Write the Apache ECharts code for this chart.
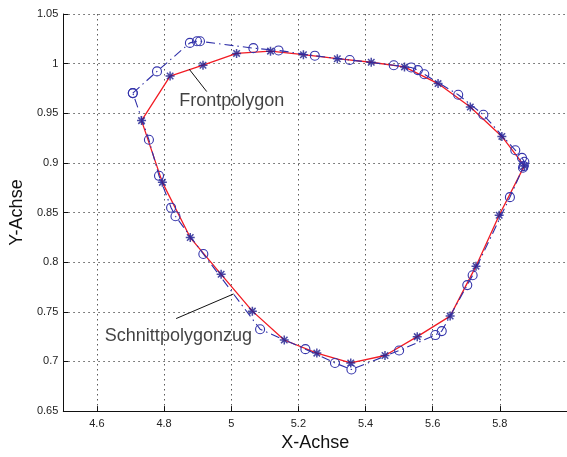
<!DOCTYPE html>
<html>
<head>
<meta charset="utf-8">
<script src="https://cdn.jsdelivr.net/npm/echarts@6/dist/echarts.min.js"></script>
<style>html,body{margin:0;padding:0;background:#fff;}#c{width:567px;height:457px;}</style>
</head>
<body>
<div id="c"></div>
<script>
// Front polygon vertices (red line, blue asterisks) [x, y]
var frontX = [4.733,4.818,4.916,5.016,5.117,5.215,5.316,5.417,5.516,5.616,5.712,5.806,5.873,5.798,5.729,5.652,5.554,5.458,5.356,5.255,5.158,5.063,4.970,4.878,4.795];
var frontY = [0.9426,0.9875,0.9984,1.0103,1.0126,1.0090,1.0050,1.0014,0.9967,0.9799,0.9564,0.9267,0.8970,0.8473,0.7960,0.7457,0.7250,0.7060,0.6985,0.7084,0.7216,0.7507,0.7878,0.8248,0.8804];
// Schnittpolygonzug (blue dash-dot, circles)
var cutX = [4.707,4.779,4.877,4.898,4.907,5.066,5.141,5.249,5.353,5.484,5.536,5.556,5.575,5.676,5.751,5.846,5.866,5.873,5.871,5.869,5.830,5.719,5.703,5.627,5.608,5.500,5.358,5.309,5.221,5.086,4.917,4.834,4.821,4.785,4.755];
var cutY = [0.9703,0.9922,1.0209,1.0225,1.0225,1.0156,1.0133,1.0080,1.0037,0.9984,0.9961,0.9935,0.9893,0.9687,0.9485,0.9128,0.9051,0.9011,0.8968,0.8951,0.8655,0.7868,0.7769,0.7306,0.7266,0.7110,0.6919,0.6985,0.7124,0.7325,0.8083,0.8463,0.8549,0.8870,0.9233];
// x tick values
var xTicks = [4.6,4.8,5.0,5.2,5.4,5.6,5.8];
// annotations
var annoNames = ['Frontpolygon','Schnittpolygonzug'];
var annoTextPos = [[4.845,0.962],[4.6237,0.7259]];
var annoLine1 = [[4.875,0.9944],[4.927,0.9719]];
var annoLine2 = [[4.836,0.7432],[5.007,0.768]];

function pairs(xs, ys, close){
  var d = xs.map(function(x,i){return [x, ys[i]];});
  if (close) d.push([xs[0], ys[0]]);
  return d;
}

var FONT = '"Liberation Sans", Arial, Helvetica, sans-serif';
var gridLine = {show:true, lineStyle:{color:'#5a5a5a', type:[1.5,3.5], width:1}};
var chart = echarts.init(document.getElementById('c'));
chart.setOption({
  animation:false,
  backgroundColor:'#fff',
  grid:{left:60.6, top:14, right:-4, bottom:39.7, containLabel:false},
  xAxis:[{
    type:'value', min:4.5, max:6.0, position:'bottom',
    name:'X-Achse', nameLocation:'middle', nameGap:19,
    nameTextStyle:{fontFamily:FONT, fontSize:18, color:'#111'},
    axisLine:{show:true, onZero:false, lineStyle:{color:'#111', width:1}},
    axisTick:{show:true, inside:true, length:5, customValues:xTicks, lineStyle:{color:'#111'}},
    axisLabel:{show:true, customValues:xTicks, margin:7, fontFamily:FONT, fontSize:11, color:'#222',
      formatter:function(v){return String(+v.toFixed(2));}},
    splitLine:gridLine
  }],
  yAxis:[{
    type:'value', min:0.65, max:1.05, interval:0.05, position:'left',
    name:'Y-Achse', nameLocation:'middle', nameGap:32,
    nameTextStyle:{fontFamily:FONT, fontSize:18, color:'#111'},
    axisLine:{show:true, onZero:false, lineStyle:{color:'#111', width:1}},
    axisTick:{show:true, inside:true, length:5, lineStyle:{color:'#111'}},
    axisLabel:{show:true, margin:5, fontFamily:FONT, fontSize:11, color:'#222',
      formatter:function(v){return String(+v.toFixed(2));}},
    splitLine:gridLine
  }],
  series:[
    {type:'line', data:pairs(frontX, frontY, true), showSymbol:false, symbol:'none',
     lineStyle:{color:'#f21c24', width:1.3}, z:2, silent:true},
    {type:'scatter', data:pairs(frontX, frontY, false),
     symbol:'path://M0,-5L0,5M-5,0L5,0M-3.6,-3.6L3.6,3.6M-3.6,3.6L3.6,-3.6',
     symbolSize:9, itemStyle:{color:'rgba(0,0,0,0)', borderColor:'#1c1c8e', borderWidth:1.5}, z:3, silent:true},
    {type:'line', data:pairs(cutX, cutY, true), symbol:'circle', symbolSize:9, showSymbol:true,
     itemStyle:{color:'rgba(0,0,0,0)', borderColor:'#3434ab', borderWidth:1.1},
     lineStyle:{color:'#2f2fa8', width:1.1, type:[9,4,1.5,4]}, z:4, silent:true},
    {type:'line', data:annoLine1, symbol:'none', lineStyle:{color:'#111', width:1}, z:5, silent:true},
    {type:'line', data:annoLine2, symbol:'none', lineStyle:{color:'#111', width:1}, z:5, silent:true},
    {type:'scatter', data:annoTextPos.map(function(p,i){return {name:annoNames[i], value:p};}),
     symbolSize:0, z:6, silent:true,
     label:{show:true, position:'right', distance:0, formatter:'{b}', fontFamily:FONT, fontSize:18, color:'#111'}}
  ]
});
</script>
</body>
</html>
